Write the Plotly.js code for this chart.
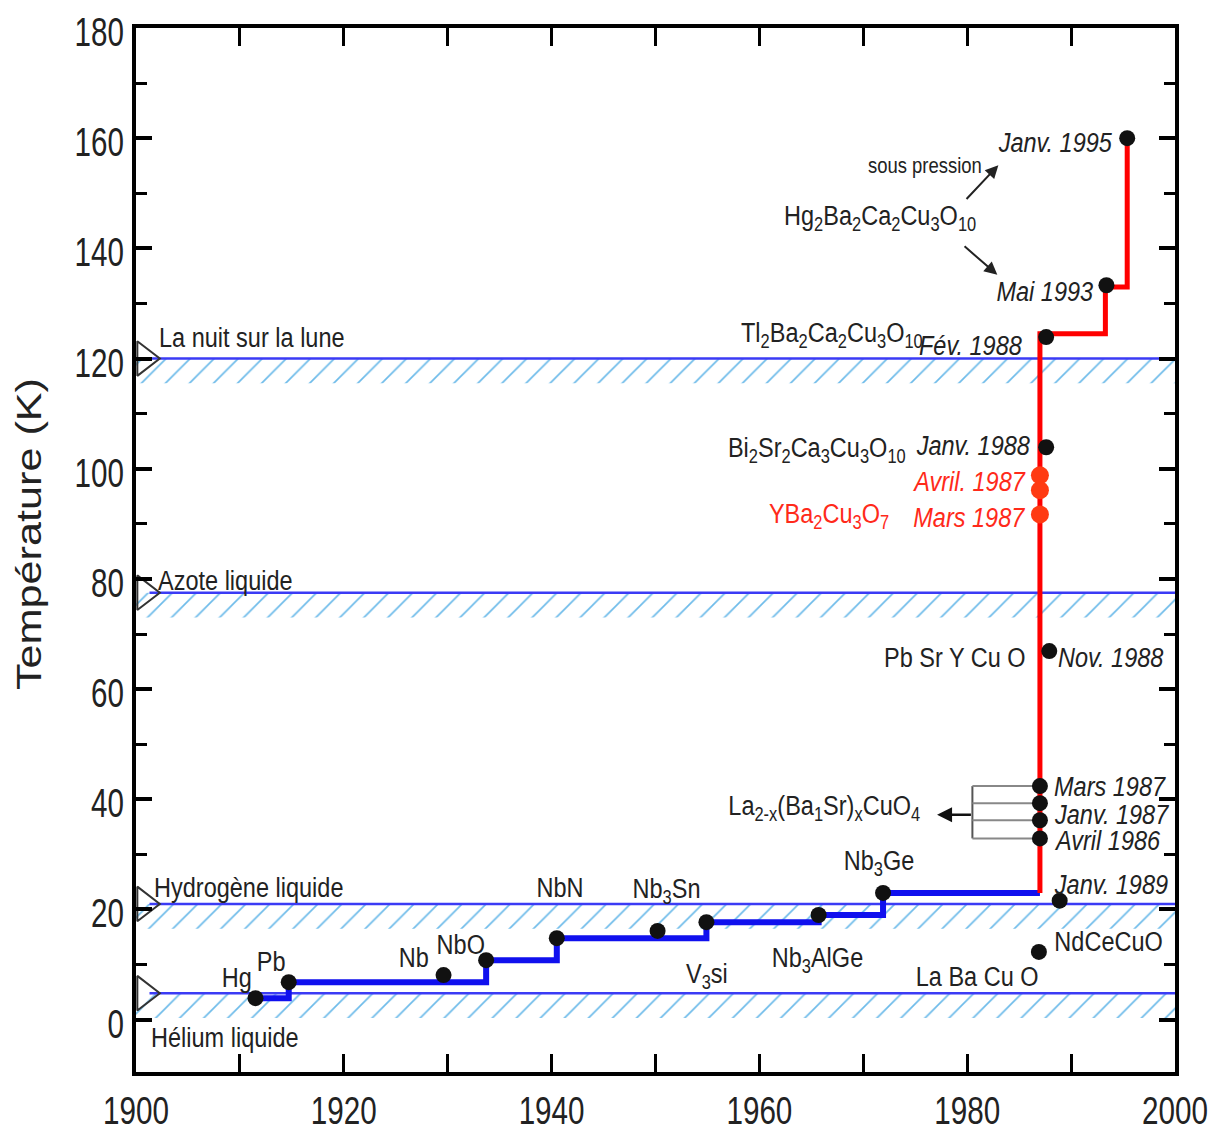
<!DOCTYPE html>
<html>
<head>
<meta charset="utf-8">
<script src="https://cdn.plot.ly/plotly-3.0.1.min.js"></script>
<style>html,body{margin:0;padding:0;background:#fff;}#chart{width:1226px;height:1133px;}</style>
</head>
<body>
<div id="chart"></div>
<script>
// ---------- DATA ----------
const refNames = ['La nuit sur la lune', 'Azote liquide', 'Hydrogène liquide', 'Hélium liquide'];
const refTemps = [120.0, 77.5, 21.0, 4.8];

// conventional superconductors: step line (record Tc)
const lowYears = [1911.5, 1914.7, 1933.7, 1940.5, 1954.9, 1965.7, 1971.9, 1987.0];
const lowTc    = [3.9, 6.8, 10.8, 14.8, 17.7, 19.0, 23.0, 23.0];

// high-Tc cuprates: step line (record Tc)
const highYears = [1987.0, 1993.3, 1995.4, 1995.4];
const highTc    = [23.0, 124.5, 133.0, 160.0];

// black points
const ptYears = [1911.5, 1914.7, 1929.6, 1933.7, 1940.5, 1950.2, 1954.9, 1965.7, 1971.9,
                 1986.9, 1988.9, 1987.9, 1987.6, 1987.6, 1993.4, 1995.4];
const ptTc    = [3.9, 6.8, 8.1, 10.8, 14.8, 16.1, 17.7, 19.0, 23.0,
                 12.3, 21.6, 66.9, 103.9, 123.9, 133.3, 160.0];

// La2-x(Ba,Sr)xCuO4 points
const laYears = [1987.0, 1987.0, 1987.0, 1987.0];
const laTc    = [42.4, 39.3, 36.2, 32.9];

// YBa2Cu3O7 points (red)
const yYears = [1987.0, 1987.0, 1987.0];
const yTc    = [98.8, 96.1, 91.7];

// text labels: [text, year, K, xanchor, colour]
const labels = [
  ['Hg', 1909.7, 7.6, 'center', 'k'],
  ['Pb', 1913.0, 10.5, 'center', 'k'],
  ['Nb', 1926.8, 11.2, 'center', 'k'],
  ['NbO', 1931.3, 13.6, 'center', 'k'],
  ['NbN', 1940.8, 23.9, 'center', 'k'],
  ['Nb<sub>3</sub>Sn', 1951.1, 23.4, 'center', 'k'],
  ['V<sub>3</sub>si', 1955.0, 8.0, 'center', 'k'],
  ['Nb<sub>3</sub>AlGe', 1965.6, 10.9, 'center', 'k'],
  ['Nb<sub>3</sub>Ge', 1971.5, 28.6, 'center', 'k'],
  ['La Ba Cu O', 1980.9, 7.9, 'center', 'k'],
  ['NdCeCuO', 1993.6, 14.1, 'center', 'k'],
  ['<i>Janv. 1989</i>', 1993.8, 24.5, 'center', 'k'],
  ['La<sub>2-x</sub>(Ba<sub>1</sub>Sr)<sub>x</sub>CuO<sub>4</sub>', 1966.3, 38.6, 'center', 'k'],
  ['<i>Mars 1987</i>', 1988.3, 42.4, 'left', 'k'],
  ['<i>Janv. 1987</i>', 1988.3, 37.3, 'left', 'k'],
  ['<i>Avril 1986</i>', 1988.3, 32.6, 'left', 'k'],
  ['Pb Sr Y Cu O', 1985.8, 65.8, 'right', 'k'],
  ['<i>Nov. 1988</i>', 1988.6, 65.8, 'left', 'k'],
  ['YBa<sub>2</sub>Cu<sub>3</sub>O<sub>7</sub>', 1972.6, 91.6, 'right', 'r'],
  ['<i>Avril. 1987</i>', 1985.8, 97.6, 'right', 'r'],
  ['<i>Mars 1987</i>', 1985.8, 91.2, 'right', 'r'],
  ['Bi<sub>2</sub>Sr<sub>2</sub>Ca<sub>3</sub>Cu<sub>3</sub>O<sub>10</sub>', 1974.2, 103.5, 'right', 'k'],
  ['<i>Janv. 1988</i>', 1986.1, 104.3, 'right', 'k'],
  ['Tl<sub>2</sub>Ba<sub>2</sub>Ca<sub>2</sub>Cu<sub>3</sub>O<sub>10</sub>', 1958.1, 124.4, 'left', 'k'],
  ['<i>Fév. 1988</i>', 1975.3, 122.3, 'left', 'k'],
  ['<i>Mai 1993</i>', 1992.3, 132.1, 'right', 'k'],
  ['Hg<sub>2</sub>Ba<sub>2</sub>Ca<sub>2</sub>Cu<sub>3</sub>O<sub>10</sub>', 1962.3, 145.6, 'left', 'k'],
  ['<i>Janv. 1995</i>', 1994.0, 159.3, 'right', 'k']
];
const refLabelX = [1902.1, 1902.0, 1901.6, 1901.3];
const refLabelY = [123.9, 79.8, 23.9, -3.3];

// ---------- STYLE ----------
const FONT = "'Liberation Sans', Arial, sans-serif";
const TXT = '#222222';
const RED = '#ff2a1a';

const traces = [];

// hatched bands below reference lines
refTemps.forEach(t => {
  traces.push({
    x: [1900, 2000, 2000, 1900, 1900],
    y: [t, t, t - 4.5, t - 4.5, t],
    mode: 'lines', fill: 'toself', fillcolor: 'white',
    fillpattern: {shape: '/', fgcolor: '#6dbbea', bgcolor: 'white', size: 17, solidity: 0.1},
    line: {width: 0}, hoverinfo: 'skip', showlegend: false
  });
  traces.push({
    x: [1901.3, 2000], y: [t, t], mode: 'lines',
    line: {color: '#3b3bf5', width: 2.5}, hoverinfo: 'skip', showlegend: false
  });
});

// triangles at left axis
traces.push({
  x: refTemps.map(() => 1900.85), y: refTemps, mode: 'markers', cliponaxis: false,
  marker: {symbol: 'triangle-right-open', size: 30, color: '#333', line: {width: 2, color: '#333'}},
  hoverinfo: 'skip', showlegend: false
});

// step lines
traces.push({x: lowYears, y: lowTc, mode: 'lines', line: {shape: 'hv', color: '#1010ee', width: 6}, showlegend: false});
traces.push({x: highYears, y: highTc, mode: 'lines', line: {shape: 'vh', color: '#ff0000', width: 5}, showlegend: false});

// bracket for La2-x points
const bracketX = 1980.5;
traces.push({
  x: [bracketX, bracketX], y: [Math.max(...laTc), Math.min(...laTc)], mode: 'lines',
  line: {color: '#555', width: 2}, showlegend: false
});
laTc.forEach(t => {
  traces.push({x: [bracketX, laYears[0] - 0.2], y: [t, t], mode: 'lines', line: {color: '#888', width: 2}, showlegend: false});
});

// points
traces.push({x: ptYears, y: ptTc, mode: 'markers', marker: {color: '#111', size: 16}, showlegend: false});
traces.push({x: laYears, y: laTc, mode: 'markers', marker: {color: '#111', size: 16}, showlegend: false});
traces.push({x: yYears, y: yTc, mode: 'markers', marker: {color: '#ff3a12', size: 18}, showlegend: false});

const annotations = [];
labels.forEach(l => {
  annotations.push({
    x: l[1], y: l[2], xref: 'x', yref: 'y', text: l[0], showarrow: false,
    xanchor: l[3], align: l[3], yanchor: 'middle', borderpad: 0,
    font: {family: FONT, size: 28, color: l[4] === 'r' ? RED : TXT}
  });
});
refNames.forEach((n, i) => {
  annotations.push({
    x: refLabelX[i], y: refLabelY[i], xref: 'x', yref: 'y', text: n, showarrow: false,
    xanchor: 'left', align: 'left', yanchor: 'middle', borderpad: 0,
    font: {family: FONT, size: 28, color: TXT}
  });
});
annotations.push({x: 1975.9, y: 155.1, xref: 'x', yref: 'y', text: 'sous pression', showarrow: false,
  font: {family: FONT, size: 22, color: TXT}});
// arrows
annotations.push({x: 1983.0, y: 155.1, ax: 1979.8, ay: 148.7, xref: 'x', yref: 'y', axref: 'x', ayref: 'y',
  text: '', showarrow: true, arrowhead: 2, arrowsize: 1.3, arrowwidth: 2, arrowcolor: '#222'});
annotations.push({x: 1982.9, y: 135.2, ax: 1979.6, ay: 140.6, xref: 'x', yref: 'y', axref: 'x', ayref: 'y',
  text: '', showarrow: true, arrowhead: 2, arrowsize: 1.3, arrowwidth: 2, arrowcolor: '#222'});
annotations.push({x: 1977.1, y: 37.2, ax: bracketX, ay: 37.2, xref: 'x', yref: 'y', axref: 'x', ayref: 'y',
  text: '', showarrow: true, arrowhead: 2, arrowsize: 1.2, arrowwidth: 2.5, arrowcolor: '#111'});

const layout = {
  width: 1226, height: 1133,
  margin: {l: 136, r: 51, t: 28, b: 61},
  paper_bgcolor: 'white', plot_bgcolor: 'white',
  showlegend: false,
  xaxis: {
    range: [1900, 2000], tick0: 1900, dtick: 20, ticks: 'inside', ticklen: 18, tickwidth: 3,
    minor: {dtick: 10, ticks: 'inside', ticklen: 18, tickwidth: 3, tickcolor: '#000'},
    mirror: 'allticks', showline: true, linewidth: 4, linecolor: '#000', tickcolor: '#000',
    showgrid: false, zeroline: false, ticklabelstandoff: 2,
    tickfont: {family: FONT, size: 38, color: TXT}
  },
  yaxis: {
    range: [-9.5, 180], tick0: 0, dtick: 20, ticks: 'inside', ticklen: 16, tickwidth: 4,
    minor: {dtick: 10, ticks: 'inside', ticklen: 11, tickwidth: 3, tickcolor: '#000'},
    mirror: 'allticks', showline: true, linewidth: 4, linecolor: '#000', tickcolor: '#000',
    showgrid: false, zeroline: false,
    tickfont: {family: FONT, size: 40, color: TXT},
    title: {text: 'Température (K)', font: {family: FONT, size: 36, color: TXT}, standoff: 6}
  },
  annotations: annotations
};

// the original figure uses a condensed typeface: squeeze text horizontally around its anchor
function squeeze(selector, s, dx, dy) {
  document.querySelectorAll(selector).forEach(t => {
    const x = parseFloat(t.getAttribute('x')) || 0;
    const tr = t.getAttribute('transform') || '';
    t.setAttribute('transform', tr + ' translate(' + (x + (dx || 0)) + ',' + (dy || 0) + ') scale(' + s + ',1) translate(' + (-x) + ',0)');
  });
}

Plotly.newPlot('chart', traces, layout, {staticPlot: true}).then(() => {
  squeeze('.xtick text', 0.78, 0, 0);
  squeeze('.ytick text', 0.74, 0, 4);
  squeeze('.annotation-text', 0.84, 0, 0);
  squeeze('.ytitle', 1.2, 16, 0);
});
</script>
</body>
</html>
